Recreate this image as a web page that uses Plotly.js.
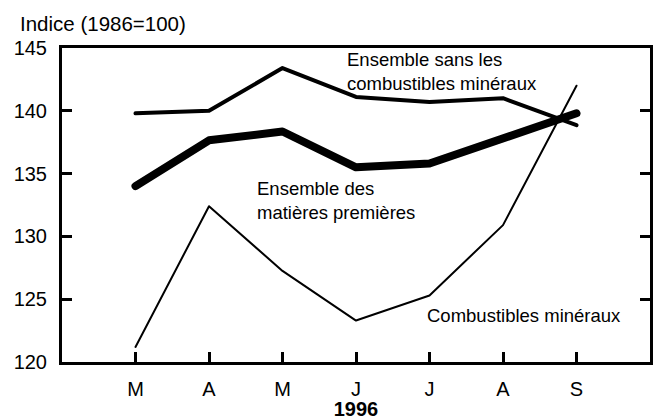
<!DOCTYPE html>
<html><head><meta charset="utf-8">
<script src="https://cdn.plot.ly/plotly-3.0.1.min.js"></script>
<style>html,body{margin:0;padding:0;background:#fff}#c{width:657px;height:420px}
.js-line{stroke-linecap:round !important;stroke-linejoin:round !important}</style>
</head><body><div id="c"></div>
<script>
const months = ['M','A','M','J','J','A','S'];
const monthIdx = [0,1,2,3,4,5,6];
const sansCombustibles = [139.8, 140.0, 143.4, 141.1, 140.7, 141.0, 138.85];
const ensemble = [134.0, 137.65, 138.35, 135.5, 135.8, 137.8, 139.8];
const combustibles = [121.2, 132.4, 127.25, 123.3, 125.3, 130.9, 142.0];

const FONT = 'Arial, "Liberation Sans", sans-serif';
const traces = [
  {x: monthIdx, y: combustibles, mode:'lines', line:{color:'#000', width:2}, name:'Combustibles minéraux'},
  {x: monthIdx, y: sansCombustibles, mode:'lines', line:{color:'#000', width:4}, name:'Ensemble sans les combustibles minéraux'},
  {x: monthIdx, y: ensemble, mode:'lines', line:{color:'#000', width:8}, name:'Ensemble des matières premières'}
];
const layout = {
  width:657, height:420,
  margin:{l:62, r:7, t:48, b:58},
  paper_bgcolor:'#fff', plot_bgcolor:'#fff',
  showlegend:false,
  font:{family:FONT, color:'#000', size:20},
  xaxis:{
    range:[-1,7], tickvals: monthIdx, ticktext: months,
    showgrid:false, zeroline:false,
    showline:true, linecolor:'#000', linewidth:3, mirror:true,
    ticks:'inside', ticklen:10, tickwidth:3, tickcolor:'#000',
    tickfont:{size:20}, ticklabelstandoff:7,
    title:{text:'<b>1996</b>', font:{size:20}, standoff:0}
  },
  yaxis:{
    range:[120,145], tickvals:[120,125,130,135,140,145],
    showgrid:false, zeroline:false,
    showline:true, linecolor:'#000', linewidth:3, mirror:'ticks',
    ticks:'inside', ticklen:10, tickwidth:3, tickcolor:'#000',
    tickfont:{size:20}, ticklabelstandoff:8
  },
  annotations:[
    {xref:'paper', yref:'paper', x:-0.075, y:1.0, yshift:25, xanchor:'left', yanchor:'middle',
     text:'Indice (1986=100)', showarrow:false, font:{size:20.5}},
    {xref:'x', yref:'y', x:2.85, y:143.1, xanchor:'left', yanchor:'middle', align:'left',
     text:'Ensemble sans les<br>combustibles minéraux', showarrow:false, font:{size:18.5}},
    {xref:'x', yref:'y', x:1.63, y:132.85, xanchor:'left', yanchor:'middle', align:'left',
     text:'Ensemble des<br>matières premières', showarrow:false, font:{size:18.5}},
    {xref:'x', yref:'y', x:3.94, y:123.7, xanchor:'left', yanchor:'middle', align:'left',
     text:'Combustibles minéraux', showarrow:false, font:{size:18.5}}
  ]
};
Plotly.newPlot('c', traces, layout, {staticPlot:true, displayModeBar:false});
</script></body></html>
